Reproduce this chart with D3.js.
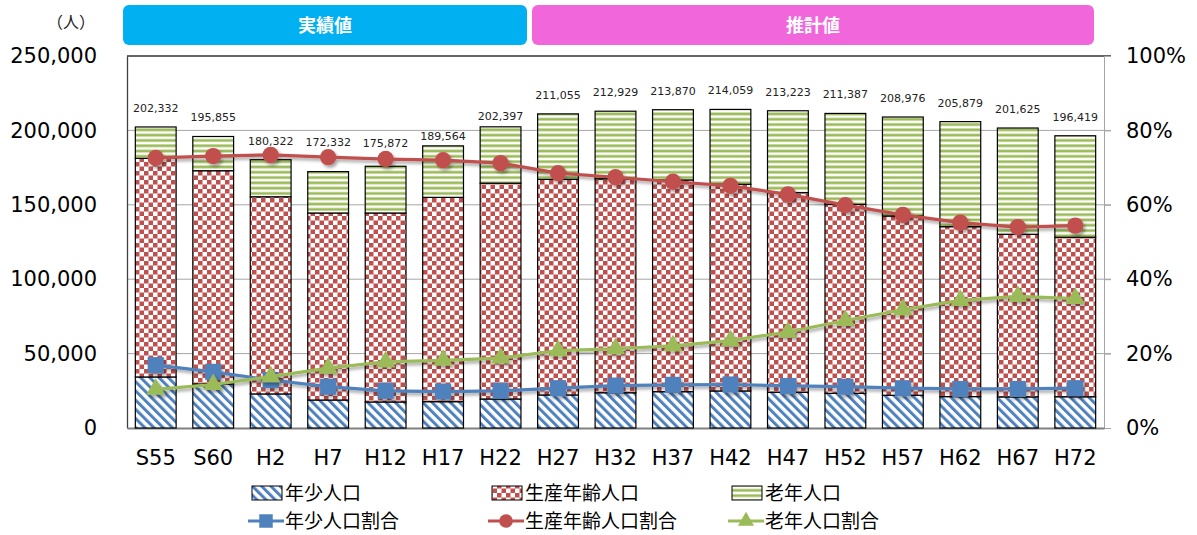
<!DOCTYPE html>
<html>
<head>
<meta charset="utf-8">
<script src="https://cdn.jsdelivr.net/npm/d3@7"></script>
<style>
  body { margin: 0; background: #fff; }
  svg { display: block; }
  .axis text { font-family: "DejaVu Sans", Verdana, sans-serif; fill: #000; }
</style>
</head>
<body>
<svg id="chart" width="1197" height="535"></svg>
<script>
// --- data ---
const categories = ['S55','S60','H2','H7','H12','H17','H22','H27','H32','H37','H42','H47','H52','H57','H62','H67','H72'];
const totals     = [202332,195855,180322,172332,175872,189564,202397,211055,212929,213870,214059,213223,211387,208976,205879,201625,196419];
const youngPop   = [34300,29600,22900,18800,17500,17700,19500,22200,23700,24400,24900,24000,23300,22000,21100,20900,21000];
const workingPop = [146900,143300,132500,125700,127000,137300,145000,144900,143800,142300,138900,134200,127000,120500,114200,109300,107200];
const elderlyPop = [21100,23000,24900,27800,31400,34600,37900,44000,45400,47200,50300,55000,61100,66500,70600,71400,68200];
const youngRate   = [16.9,15.1,12.9,11.1,10.0,9.8,10.0,10.7,11.4,11.6,11.7,11.3,11.1,10.7,10.5,10.5,10.7];
const workingRate = [72.6,73.1,73.4,72.8,72.3,72.0,71.2,68.5,67.4,66.2,65.1,62.8,59.9,57.3,55.2,54.0,54.4];
const elderlyRate = [10.4,11.7,13.8,16.1,17.8,18.2,18.8,20.8,21.3,22.1,23.5,25.8,28.9,31.8,34.3,35.4,34.8];
const leftTicks  = [0,50000,100000,150000,200000,250000];
const rightTicks = [0,0.2,0.4,0.6,0.8,1];
const popKeys = ['young','working','elderly'];

const blue = '#4f81bd', red = '#c0504d', green = '#9bbb59';

const svg = d3.select('#chart');
const plot = {left: 127, right: 1104, top: 56, bottom: 428};

const x = d3.scaleBand().domain(categories)
  .range([plot.left, plot.right]).paddingInner(0.29).paddingOuter(0.145);
const y = d3.scaleLinear().domain([0, 250000]).range([plot.bottom, plot.top]);
const yR = d3.scaleLinear().domain([0, 1]).range([plot.bottom, plot.top]);

// patterns + shadow
const defs = svg.append('defs');
const pYoung = defs.append('pattern').attr('id','pYoung').attr('patternUnits','userSpaceOnUse')
  .attr('width', 6.5).attr('height', 6.5).attr('patternTransform','rotate(-45)');
pYoung.append('rect').attr('width',6.5).attr('height',6.5).attr('fill','#fff');
pYoung.append('rect').attr('width',3).attr('height',6.5).attr('fill',blue);

const pWork = defs.append('pattern').attr('id','pWork').attr('patternUnits','userSpaceOnUse')
  .attr('width', 9).attr('height', 9);
pWork.append('rect').attr('width',9).attr('height',9).attr('fill','#fff');
pWork.append('rect').attr('width',4.5).attr('height',4.5).attr('fill',red);
pWork.append('rect').attr('x',4.5).attr('y',4.5).attr('width',4.5).attr('height',4.5).attr('fill',red);

const pOld = defs.append('pattern').attr('id','pOld').attr('patternUnits','userSpaceOnUse')
  .attr('width', 8).attr('height', 5.3);
pOld.append('rect').attr('width',8).attr('height',5.3).attr('fill','#fff');
pOld.append('rect').attr('y',1.3).attr('width',8).attr('height',2.7).attr('fill',green);

const shadow = defs.append('filter').attr('id','shadow')
  .attr('x','-30%').attr('y','-30%').attr('width','160%').attr('height','160%');
shadow.append('feDropShadow').attr('dx',2).attr('dy',2.5).attr('stdDeviation',1.6)
  .attr('flood-color','#000').attr('flood-opacity',0.35);

const fills = {young: 'url(#pYoung)', working: 'url(#pWork)', elderly: 'url(#pOld)'};

// header bands
const headers = [
  {text: '実績値', x0: 123, x1: 527, color: '#00b0f0'},
  {text: '推計値', x0: 532, x1: 1094, color: '#f266dc'}
];
const hd = svg.append('g').selectAll('g').data(headers).join('g');
hd.append('rect').attr('x', d => d.x0).attr('y', 5).attr('width', d => d.x1 - d.x0).attr('height', 40)
  .attr('rx', 6).attr('fill', d => d.color);
hd.append('text').attr('x', d => (d.x0 + d.x1) / 2).attr('y', 26).attr('dy','0.35em')
  .attr('text-anchor','middle').attr('fill','#fff')
  .style('font-family','"Noto Sans CJK JP", sans-serif').style('font-size','18px').style('font-weight','bold')
  .text(d => d.text);

svg.append('text').attr('x', 95).attr('y', 22).attr('dy','0.35em').attr('text-anchor','end')
  .style('font-family','"Noto Sans CJK JP", sans-serif').style('font-size','16px').attr('fill','#222')
  .text('（人）');

// gridlines
svg.append('g').selectAll('line').data(leftTicks.slice(1)).join('line')
  .attr('x1', plot.left).attr('x2', plot.right + 7)
  .attr('y1', d => y(d)).attr('y2', d => y(d))
  .attr('stroke', d => d === 250000 ? '#333' : '#a6a6a6').attr('stroke-width', d => d === 250000 ? 1.3 : 1);

// axes
const yAxis = d3.axisLeft(y).tickValues(leftTicks).tickFormat(d3.format(',')).tickSize(0).tickPadding(30);
const yAxisG = svg.append('g').attr('class','axis').attr('transform',`translate(${plot.left},0)`).call(yAxis);
yAxisG.select('.domain').attr('stroke','#404040').attr('stroke-width',1.3);
yAxisG.selectAll('text').style('font-size','21px');

const rAxis = d3.axisRight(yR).tickValues(rightTicks).tickFormat(d3.format('.0%')).tickSize(7).tickPadding(15);
const rAxisG = svg.append('g').attr('class','axis').attr('transform',`translate(${plot.right},0)`).call(rAxis);
rAxisG.select('.domain').attr('stroke','#a6a6a6');
rAxisG.selectAll('line').attr('stroke','#a6a6a6');
rAxisG.selectAll('text').style('font-size','21px');

const xAxis = d3.axisBottom(x).tickSize(0).tickPadding(22);
const xAxisG = svg.append('g').attr('class','axis').attr('transform',`translate(0,${plot.bottom})`).call(xAxis);
xAxisG.select('.domain').attr('stroke','#808080').attr('stroke-width',2);
xAxisG.selectAll('text').style('font-size','21px');

// stacked bars
const rows = categories.map((c, i) => ({cat: c, young: youngPop[i], working: workingPop[i], elderly: elderlyPop[i]}));
const stacked = d3.stack().keys(popKeys)(rows);
svg.append('g').selectAll('g').data(stacked).join('g')
  .attr('fill', d => fills[d.key])
  .selectAll('rect').data(d => d).join('rect')
    .attr('x', d => x(d.data.cat))
    .attr('y', d => y(d[1]))
    .attr('width', x.bandwidth())
    .attr('height', d => y(d[0]) - y(d[1]))
    .attr('stroke', '#000').attr('stroke-width', 1.2);

// total labels (a few were nudged in the original)
const labelGap = {H7: 29, H12: 23, H17: 10, H22: 11};
svg.append('g').selectAll('text').data(categories).join('text')
  .attr('x', d => x(d) + x.bandwidth() / 2)
  .attr('y', (d, i) => y(totals[i]) - (labelGap[d] || 19))
  .attr('dy','0.35em').attr('text-anchor','middle')
  .style('font-family','"DejaVu Sans", Verdana, sans-serif').style('font-size','11px').attr('fill','#222')
  .text((d, i) => d3.format(',')(totals[i]));

// ratio lines
const cx = d => x(d) + x.bandwidth() / 2;
const series = [
  {name: 'young', color: blue, values: youngRate, shape: d3.symbolSquare, size: 260},
  {name: 'working', color: red, values: workingRate, shape: d3.symbolCircle, size: 210},
  {name: 'elderly', color: green, values: elderlyRate, shape: d3.symbolTriangle, size: 160}
];
const line = d3.line().x(d => cx(d.cat)).y(d => yR(d.v / 100));
series.forEach(s => {
  const pts = categories.map((c, i) => ({cat: c, v: s.values[i]}));
  const g = svg.append('g').attr('filter','url(#shadow)');
  g.append('path').datum(pts).attr('d', line).attr('fill','none')
    .attr('stroke', s.color).attr('stroke-width', 3.2);
  g.selectAll('path.m').data(pts).join('path').attr('class','m')
    .attr('transform', d => `translate(${cx(d.cat)},${yR(d.v / 100)})`)
    .attr('d', d3.symbol().type(s.shape).size(s.size))
    .attr('fill', s.color);
});

// legend
const legendItems = [
  {label: '年少人口', kind: 'bar', fill: fills.young, col: 0, row: 0},
  {label: '生産年齢人口', kind: 'bar', fill: fills.working, col: 1, row: 0},
  {label: '老年人口', kind: 'bar', fill: fills.elderly, col: 2, row: 0},
  {label: '年少人口割合', kind: 'line', s: series[0], col: 0, row: 1},
  {label: '生産年齢人口割合', kind: 'line', s: series[1], col: 1, row: 1},
  {label: '老年人口割合', kind: 'line', s: series[2], col: 2, row: 1}
];
const colX = [248, 488, 728];
const rowY = [493, 521];
const lg = svg.append('g').selectAll('g').data(legendItems).join('g')
  .attr('transform', d => `translate(${colX[d.col]},${rowY[d.row]})`);
lg.filter(d => d.kind === 'bar').append('rect')
  .attr('x', 4).attr('y', -7).attr('width', 30).attr('height', 14)
  .attr('fill', d => d.fill).attr('stroke','#000').attr('stroke-width',1);
lg.filter(d => d.kind === 'line').each(function(d) {
  const g = d3.select(this);
  g.append('line').attr('x1', 0).attr('x2', 36).attr('stroke', d.s.color).attr('stroke-width', 3.2);
  g.append('path').attr('transform','translate(18,0)')
    .attr('d', d3.symbol().type(d.s.shape).size(d.s.size * 0.7)).attr('fill', d.s.color);
});
lg.append('text').attr('x', 37).attr('dy','0.35em')
  .style('font-family','"Noto Sans CJK JP", sans-serif').style('font-size','19px').attr('fill','#000')
  .text(d => d.label);
</script>
</body>
</html>
